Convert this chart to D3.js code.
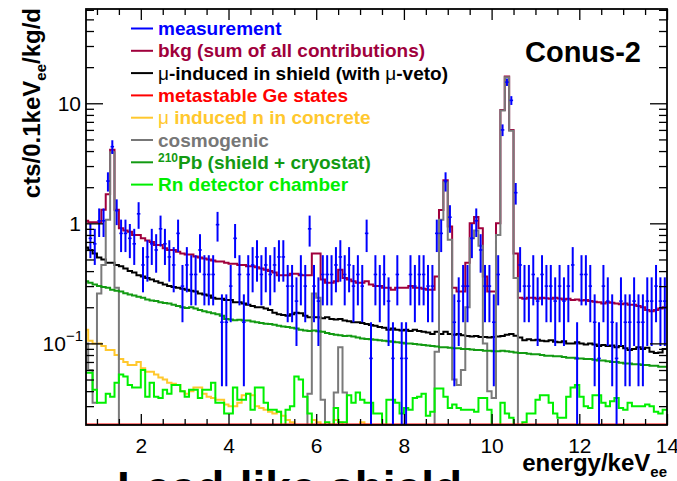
<!DOCTYPE html>
<html><head><meta charset="utf-8">
<script src="https://cdn.jsdelivr.net/npm/d3@7"></script>
<style>body{margin:0;background:#fff}svg{display:block}</style>
</head><body>
<svg id="c" width="677" height="481"></svg>
<script>
// ---------- data (cts / 0.1 keV_ee / kg / d) ----------
// model histograms: 0.1 keV bins, first bin 0.7-0.8 keV (centres 0.75 ... 13.95)
const binLow = 0.7, binWidth = 0.1;

const bkgSum = [
 1.05,1.02,1.02,1.02,1.3,1.75,4.1,1.3,0.91,0.87,
 0.85,0.8,0.8,0.75,0.72,0.7,0.66,0.66,0.62,0.6,
 0.6,0.58,0.56,0.55,0.55,0.53,0.52,0.51,0.5,0.49,
 0.48,0.48,0.47,0.46,0.46,0.45,0.45,0.44,0.44,0.43,
 0.42,0.41,0.4,0.39,0.37,0.37,0.37,0.38,0.38,0.37,
 0.37,0.37,0.56,0.56,0.34,0.32,0.32,0.33,0.41,0.35,
 0.34,0.33,0.32,0.32,0.33,0.31,0.3,0.3,0.29,0.29,
 0.28,0.29,0.29,0.29,0.3,0.29,0.29,0.285,0.28,0.28,
 0.36,1.29,2.28,0.94,0.29,0.27,0.27,0.47,1.0,1.13,
 0.91,0.36,0.27,0.27,1.0,8.8,16.7,6.0,0.56,0.24,
 0.235,0.24,0.24,0.235,0.24,0.238,0.235,0.24,0.237,0.232,
 0.235,0.23,0.232,0.228,0.23,0.225,0.222,0.22,0.215,0.22,
 0.218,0.215,0.212,0.215,0.21,0.21,0.205,0.2,0.19,0.185,
 0.19,0.195,0.2];

const muShield = [
 0.63,0.6,0.56,0.52,0.5,0.47,0.47,0.45,0.44,0.42,
 0.4,0.39,0.37,0.36,0.35,0.34,0.33,0.32,0.31,0.3,
 0.295,0.29,0.285,0.28,0.275,0.27,0.26,0.255,0.25,0.24,
 0.235,0.235,0.23,0.23,0.22,0.22,0.215,0.21,0.205,0.2,
 0.2,0.195,0.19,0.18,0.175,0.172,0.17,0.175,0.18,0.178,
 0.17,0.165,0.165,0.165,0.162,0.165,0.16,0.158,0.16,0.155,
 0.153,0.15,0.15,0.148,0.145,0.142,0.14,0.137,0.135,0.13,
 0.133,0.13,0.128,0.13,0.127,0.13,0.127,0.125,0.123,0.12,
 0.125,0.12,0.125,0.12,0.118,0.12,0.117,0.115,0.114,0.115,
 0.113,0.113,0.112,0.113,0.114,0.115,0.118,0.12,0.116,0.112,
 0.106,0.108,0.106,0.107,0.105,0.104,0.106,0.103,0.102,0.104,
 0.1,0.1,0.102,0.1,0.098,0.1,0.098,0.095,0.097,0.095,
 0.096,0.093,0.095,0.091,0.088,0.09,0.093,0.09,0.092,0.085,
 0.083,0.084,0.09];

const metastableGe = [
 0.02,0.02,0.02,0.02,0.02,0.02,0.02,0.02,0.02,0.02,
 0.02,0.02,0.02,0.02,0.02,0.02,0.02,0.02,0.02,0.02,
 0.02,0.02,0.02,0.02,0.02,0.02,0.02,0.02,0.02,0.02,
 0.02,0.02,0.02,0.02,0.02,0.02,0.02,0.02,0.02,0.02,
 0.02,0.02,0.02,0.02,0.02,0.02,0.02,0.02,0.02,0.02,
 0.02,0.02,0.02,0.02,0.02,0.02,0.02,0.02,0.02,0.02,
 0.02,0.02,0.02,0.02,0.02,0.02,0.02,0.02,0.02,0.02,
 0.02,0.02,0.02,0.02,0.02,0.02,0.02,0.02,0.02,0.02,
 0.02,0.02,0.02,0.02,0.02,0.02,0.02,0.02,0.02,0.02,
 0.02,0.02,0.02,0.02,0.02,0.02,0.02,0.02,0.02,0.02,
 0.02,0.02,0.02,0.02,0.02,0.02,0.02,0.02,0.02,0.02,
 0.02,0.02,0.02,0.02,0.02,0.02,0.02,0.02,0.02,0.02,
 0.02,0.02,0.02,0.02,0.02,0.02,0.02,0.02,0.02,0.02,
 0.02,0.02,0.02];

const muNeutronConcrete = [
 0.13,0.105,0.1,0.1,0.095,0.088,0.088,0.08,0.074,0.07,
 0.066,0.066,0.07,0.062,0.058,0.058,0.055,0.052,0.05,0.047,
 0.046,0.045,0.04,0.038,0.04,0.043,0.043,0.038,0.036,0.035,
 0.034,0.034,0.031,0.03,0.03,0.032,0.037,0.038,0.037,0.03,
 0.029,0.028,0.027,0.026,0.027,0.025,0.023,0.022,0.02,0.019,
 0.018,0.019,0.023,0.022,0.019,0.018,0.019,0.023,0.022,0.018,
 0.017,0.018,0.017,0.022,0.021,0.017,0.016,0.016,0.015,0.015,
 0.015,0.015,0.015,0.015,0.015,0.015,0.015,0.015,0.015,0.015,
 0.015,0.015,0.015,0.015,0.015,0.015,0.015,0.015,0.015,0.015,
 0.015,0.015,0.015,0.015,0.015,0.015,0.015,0.015,0.015,0.015,
 0.015,0.015,0.015,0.015,0.015,0.015,0.015,0.015,0.015,0.015,
 0.015,0.015,0.015,0.015,0.015,0.015,0.015,0.015,0.015,0.015,
 0.015,0.015,0.015,0.015,0.015,0.015,0.015,0.015,0.015,0.015,
 0.015,0.015,0.015];

const cosmogenic = [
 0.1,0.06,0.032,0.26,0.45,1.07,3.9,0.29,0,0,
 0,0,0,0,0,0,0,0,0,0,
 0,0,0,0,0,0,0,0,0,0,
 0,0,0,0,0,0,0,0,0,0,
 0,0,0,0,0,0,0,0,0,0,
 0,0.038,0.26,0.24,0.034,0,0,0.039,0.093,0.039,
 0,0,0,0,0,0,0,0,0,0,
 0,0,0,0,0,0,0,0,0,0,
 0.085,1.07,2.2,0.73,0.05,0.045,0.06,0.2,0.75,0.87,
 0.65,0.1,0.04,0.035,0.8,8.7,16.5,5.9,0.35,0,
 0,0,0,0,0,0,0,0,0,0,
 0,0,0,0,0,0,0,0,0,0,
 0,0,0,0,0,0,0,0,0,0,
 0,0,0];

const pb210 = [
 0.33,0.32,0.31,0.3,0.295,0.29,0.28,0.275,0.27,0.262,
 0.255,0.25,0.245,0.24,0.232,0.228,0.225,0.22,0.217,0.215,
 0.21,0.205,0.2,0.197,0.2,0.195,0.19,0.185,0.182,0.178,
 0.175,0.17,0.16,0.158,0.156,0.157,0.155,0.155,0.152,0.15,
 0.148,0.146,0.145,0.143,0.14,0.138,0.137,0.135,0.133,0.13,
 0.128,0.127,0.128,0.126,0.125,0.122,0.12,0.118,0.117,0.115,
 0.116,0.114,0.112,0.11,0.109,0.108,0.107,0.106,0.105,0.104,
 0.103,0.102,0.101,0.1,0.1,0.099,0.098,0.097,0.096,0.095,
 0.094,0.093,0.093,0.092,0.091,0.091,0.09,0.09,0.089,0.088,
 0.088,0.087,0.087,0.086,0.086,0.087,0.086,0.085,0.084,0.083,
 0.083,0.082,0.081,0.081,0.08,0.079,0.079,0.078,0.078,0.077,
 0.076,0.076,0.075,0.075,0.074,0.074,0.073,0.072,0.072,0.071,
 0.07,0.07,0.069,0.068,0.068,0.067,0.067,0.066,0.066,0.065,
 0.065,0.064,0.064];

const rnChamber = [
 0.057,0.057,0.041,0.032,0.032,0.038,0.036,0.047,0.055,0.053,
 0.045,0.043,0.043,0.06,0.036,0.047,0.036,0.035,0.041,0.038,
 0.045,0.045,0.04,0.036,0.041,0.041,0.035,0.041,0.041,0.047,
 0.032,0.032,0.026,0.026,0.043,0.034,0.034,0.038,0.028,0.043,
 0.043,0.032,0.028,0.028,0.027,0.019,0.028,0.03,0.053,0.05,
 0.036,0.026,0.019,0.019,0.02,0.022,0.021,0.029,0.022,0.022,
 0.037,0.032,0.039,0.034,0.032,0.032,0.026,0.026,0.019,0.034,
 0.034,0.032,0.026,0.029,0.028,0.035,0.036,0.038,0.025,0.027,
 0.042,0.042,0.036,0.029,0.031,0.029,0.028,0.028,0.028,0.027,
 0.035,0.035,0.028,0.019,0.019,0.032,0.026,0.024,0.019,0.019,
 0.022,0.026,0.026,0.034,0.037,0.037,0.032,0.026,0.024,0.024,
 0.036,0.043,0.045,0.036,0.03,0.029,0.037,0.037,0.032,0.03,
 0.033,0.035,0.029,0.028,0.032,0.03,0.03,0.03,0.031,0.03,
 0.027,0.026,0.028];

// measurement: counts per 0.1 keV bin, bins 0.8-0.9 ... 13.9-14.0
const measLow = 0.8;
const countScale = 0.075; // (cts/0.1keV/kg/d) per recorded count
const measCounts = [
 10,9,14,14,30,58,17,11,11,10,
 9,16,6,7,9,8,12,9,7,6,
 11,4,6,5,5,8,5,5,5,13,
 2,2,4,10,5,2,5,6,7,5,
 6,5,6,7,7,4,4,3,5,4,
 12,4,3,5,5,5,6,7,5,6,
 4,5,4,11,1,5,4,5,3,1,
 5,1,1,5,4,5,5,4,4,11,
 11,30,15,2,3,4,4,10,14,8,
 4,4,2,5,80,200,141,24,6,4,
 4,5,3,5,4,4,3,4,3,4,
 6,1,5,5,4,2,1,4,3,2,
 1,3,2,2,3,2,2,3,3,4,
 3,3];

const xDomain = [0.75, 14];
const yDomain = [0.0209, 61];
const xMajorTicks = [2, 4, 6, 8, 10, 12, 14];
const yMajorTicks = [0.1, 1, 10];

// ---------- drawing ----------
const FONT = "'Liberation Sans', Arial, Helvetica, sans-serif";
const L = 86, R = 667, T = 9, B = 425;
const svg = d3.select("#c");
const x = d3.scaleLinear().domain(xDomain).range([L, R]);
const y = d3.scaleLog().domain(yDomain).range([B, T]);
const yc = v => y(Math.max(v, yDomain[0]));

svg.append("defs").append("clipPath").attr("id","plot")
  .append("rect").attr("x",L).attr("y",T).attr("width",R-L).attr("height",B-T);

const plot = svg.append("g").attr("clip-path","url(#plot)");

function stepPath(vals){
  const pts = [];
  vals.forEach((v,i)=>{
    const lo = Math.max(binLow + i*binWidth, xDomain[0]);
    const hi = Math.min(binLow + (i+1)*binWidth, xDomain[1]);
    pts.push([lo,v],[hi,v]);
  });
  return d3.line().x(d=>x(d[0])).y(d=>yc(d[1]))(pts);
}

const series = [
  {v:bkgSum, c:"#a0003c"},
  {v:muShield, c:"#000000"},
  {v:muNeutronConcrete, c:"#ffc82e"},
  {v:cosmogenic, c:"#7a7a7a"},
  {v:pb210, c:"#129a12"},
  {v:rnChamber, c:"#00f000"},
  {v:metastableGe, c:"#ff0000", w:3}
];
series.forEach(s=>{
  plot.append("path").attr("d",stepPath(s.v)).attr("fill","none")
    .attr("stroke",s.c).attr("stroke-width",s.w||2).attr("stroke-linejoin","miter");
});

// measurement points with Poisson error bars
const meas = measCounts.map((n,i)=>({c: measLow + binWidth*(i+0.5), v: n*countScale, e: Math.sqrt(n)*countScale}));
const mg = plot.append("g").attr("stroke","#0000ff").attr("stroke-width",2);
mg.selectAll("line.v").data(meas).join("line").attr("class","v")
  .attr("x1",d=>x(d.c)).attr("x2",d=>x(d.c))
  .attr("y1",d=>yc(d.v+d.e)).attr("y2",d=>yc(d.v-d.e));
mg.selectAll("line.h").data(meas).join("line").attr("class","h")
  .attr("stroke-width",1.6)
  .attr("x1",d=>x(d.c-0.04)).attr("x2",d=>x(d.c+0.04))
  .attr("y1",d=>yc(d.v)).attr("y2",d=>yc(d.v));

// ---------- axes ----------
const isMajorLog = t => Math.abs(Math.log10(t) - Math.round(Math.log10(t))) < 1e-6;
const yMinor = y.ticks().filter(t=>!isMajorLog(t));
const xMinor = d3.range(1.0, 14.0, 0.5).filter(t=>!xMajorTicks.includes(t));

function styleAxis(g){ g.select(".domain").remove(); g.selectAll("line").attr("stroke","#000").attr("stroke-width",1.3); }

svg.append("g").attr("transform",`translate(${L},0)`).call(d3.axisLeft(y).tickValues(yMajorTicks).tickSize(-17).tickFormat("")).call(styleAxis);
svg.append("g").attr("transform",`translate(${L},0)`).call(d3.axisLeft(y).tickValues(yMinor).tickSize(-8).tickFormat("")).call(styleAxis);
svg.append("g").attr("transform",`translate(${R},0)`).call(d3.axisRight(y).tickValues(yMajorTicks).tickSize(-17).tickFormat("")).call(styleAxis);
svg.append("g").attr("transform",`translate(${R},0)`).call(d3.axisRight(y).tickValues(yMinor).tickSize(-8).tickFormat("")).call(styleAxis);

const xb = svg.append("g").attr("transform",`translate(0,${B})`)
  .call(d3.axisBottom(x).tickValues(xMajorTicks).tickSize(-11).tickPadding(13).tickFormat(d3.format("d")))
  .call(styleAxis);
xb.selectAll("text").attr("font-family",FONT).attr("font-size",21).attr("fill","#000");
svg.append("g").attr("transform",`translate(0,${B})`).call(d3.axisBottom(x).tickValues(xMinor).tickSize(-6).tickFormat("")).call(styleAxis);
svg.append("g").attr("transform",`translate(0,${T})`).call(d3.axisTop(x).tickValues(xMajorTicks).tickSize(-11).tickFormat("")).call(styleAxis);
svg.append("g").attr("transform",`translate(0,${T})`).call(d3.axisTop(x).tickValues(xMinor).tickSize(-6).tickFormat("")).call(styleAxis);

// y tick labels (ROOT style)
const yl = svg.append("g").attr("font-family",FONT).attr("font-size",21).attr("fill","#000").attr("text-anchor","end");
yl.append("text").attr("x",81).attr("y",y(10)+7.5).text("10");
yl.append("text").attr("x",81).attr("y",y(1)+7.5).text("1");
const tm = yl.append("text").attr("x",83).attr("y",y(0.1)+7.5);
tm.append("tspan").text("10");
tm.append("tspan").attr("font-size",15).attr("dy",-10).text("\u22121");

// frame
svg.append("rect").attr("x",L).attr("y",T).attr("width",R-L).attr("height",B-T)
  .attr("fill","none").attr("stroke","#000").attr("stroke-width",1.8);

// axis titles
const xt = svg.append("text").attr("x",R).attr("y",471).attr("text-anchor","end")
  .attr("font-family",FONT).attr("font-size",24).attr("font-weight","bold");
xt.append("tspan").text("energy/keV");
xt.append("tspan").attr("font-size",15).attr("dy",6).text("ee");

const yt = svg.append("text").attr("transform","translate(40,8) rotate(-90)").attr("text-anchor","end")
  .attr("font-family",FONT).attr("font-size",24).attr("font-weight","bold");
yt.append("tspan").text("cts/0.1keV");
yt.append("tspan").attr("font-size",15).attr("dy",6).text("ee");
yt.append("tspan").attr("dy",-6).text("/kg/d");

// label
svg.append("text").attr("x",525).attr("y",62).attr("font-family",FONT).attr("font-size",29)
  .attr("font-weight","bold").text("Conus-2");

// legend
const legend = [
  {parts:[{t:"measurement"}], c:"#0000ff"},
  {parts:[{t:"bkg (sum of all contributions)"}], c:"#a0003c"},
  {parts:[{t:"\u03bc",n:1},{t:"-induced in shield (with "},{t:"\u03bc",n:1},{t:"-veto)"}], c:"#000000"},
  {parts:[{t:"metastable Ge states"}], c:"#ff0000"},
  {parts:[{t:"\u03bc",n:1},{t:" induced n in concrete"}], c:"#ffc82e"},
  {parts:[{t:"cosmogenic"}], c:"#777777"},
  {parts:[{t:"210",sup:1},{t:"Pb (shield + cryostat)"}], c:"#129a12"},
  {parts:[{t:"Rn detector chamber"}], c:"#00ee00"}
];
const lg = svg.append("g").attr("font-family",FONT).attr("font-size",19).attr("font-weight","bold");
legend.forEach((d,i)=>{
  const yy = 28.5 + i*22.3;
  lg.append("line").attr("x1",131).attr("x2",153).attr("y1",yy).attr("y2",yy).attr("stroke",d.c).attr("stroke-width",2);
  const t = lg.append("text").attr("x",158).attr("y",yy+6.5).attr("fill",d.c);
  let shifted = false;
  d.parts.forEach(p=>{
    const s = t.append("tspan").text(p.t);
    if(p.n) s.attr("font-weight","normal");
    if(p.sup){ s.attr("font-size",12).attr("dy",-7); shifted = true; }
    else if(shifted){ s.attr("dy",7); shifted = false; }
  });
});

// partially visible caption of the panel below (only the tops of tall letters show)
svg.append("text").attr("x",117).attr("y",504).attr("font-family",FONT).attr("font-size",46)
  .attr("font-weight","bold").text("Lead-like shield");
</script>
</body></html>
